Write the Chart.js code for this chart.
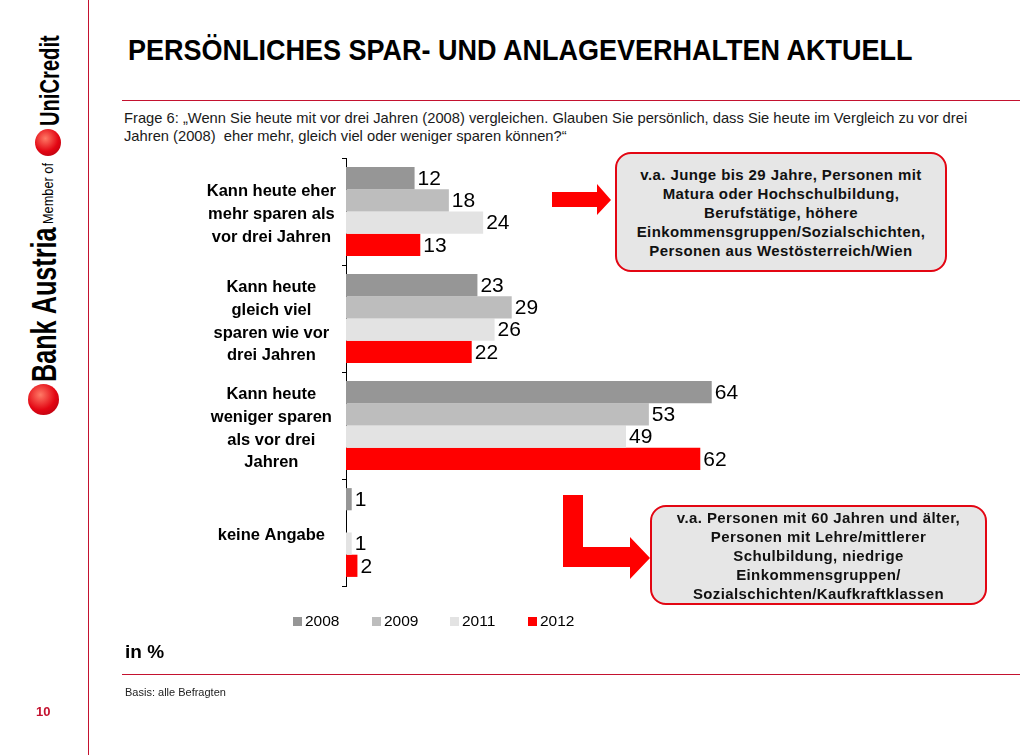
<!DOCTYPE html>
<html lang="de">
<head>
<meta charset="utf-8">
<title>Persönliches Spar- und Anlageverhalten aktuell</title>
<script src="https://cdn.jsdelivr.net/npm/chart.js@4/dist/chart.umd.min.js"></script>
<style>
  html, body { margin: 0; padding: 0; background: #fff; }
  body { width: 1020px; height: 755px; position: relative; overflow: hidden; font-family: "Liberation Sans", Arial, sans-serif; color: #000; }
  .abs { position: absolute; }
  .vline { left: 88px; top: 0; width: 1px; height: 755px; background: #c4122f; }
  .hline { left: 122px; width: 898px; height: 1px; background: #c4122f; }
  .title { left: 128px; top: 33px; font-size: 30px; font-weight: bold; white-space: nowrap; transform-origin: left top; transform: scaleX(0.9); }
  .question { left: 124px; top: 109px; font-size: 14.5px; line-height: 18px; color: #1a1a1a; white-space: nowrap; transform-origin: left top; transform: scaleX(1.015); }
  .box { background: #e6e6e6; border: 2.5px solid #e30613; border-radius: 16px; box-sizing: border-box;
         display: flex; align-items: center; justify-content: center; text-align: center;
         font-weight: bold; font-size: 15px; letter-spacing: 0.4px; line-height: 19px; color: #111; }
  .legend { top: 612px; display: flex; align-items: center; font-size: 15.5px; }
  .legend span.sw { display: inline-block; width: 9px; height: 9px; margin-right: 3px; }
  .logo { transform-origin: left top; white-space: nowrap; line-height: 1; }
  .dot { border-radius: 50%; background: radial-gradient(circle at 40% 35%, #ff7a66, #e30613 55%, #a3000f); }
</style>
</head>
<body>
<div class="abs vline"></div>

<!-- logo column, text reads bottom to top -->
<div class="abs logo" style="left:26px; top:382px; font-size:35px; font-weight:bold; transform: rotate(-90deg) scaleX(0.72);">Bank Austria</div>
<div class="abs dot" style="left:28px; top:384px; width:31px; height:31px;"></div>
<div class="abs logo" style="left:40px; top:224px; font-size:15px; transform: rotate(-90deg) scaleX(0.85);">Member of</div>
<div class="abs dot" style="left:35px; top:129px; width:26px; height:27px;"></div>
<div class="abs logo" style="left:36px; top:126px; font-size:28px; font-weight:bold; transform: rotate(-90deg) scaleX(0.72);">UniCredit</div>

<div class="abs title">PERSÖNLICHES SPAR- UND ANLAGEVERHALTEN AKTUELL</div>
<div class="abs hline" style="top:100px;"></div>
<div class="abs question">Frage 6: „Wenn Sie heute mit vor drei Jahren (2008) vergleichen. Glauben Sie persönlich, dass Sie heute im Vergleich zu vor drei<br>Jahren (2008)&nbsp; eher mehr, gleich viel oder weniger sparen können?“</div>

<div class="abs" style="left:180px; top:150px; width:600px; height:450px;">
  <canvas id="savingsChart"></canvas>
</div>

<!-- arrows -->
<svg class="abs" style="left:0; top:0;" width="1020" height="755">
  <polygon points="552,192 597,192 597,184 611,200 597,215 597,207 552,207" fill="#ff0000"/>
  <polygon points="563,495 583,495 583,547 630,547 630,537 650,558 630,579 630,567 563,567" fill="#ff0000"/>
</svg>

<div class="abs box" style="left:615px; top:152px; width:332px; height:120px;">v.a. Junge bis 29 Jahre, Personen mit<br>Matura oder Hochschulbildung,<br>Berufstätige, höhere<br>Einkommensgruppen/Sozialschichten,<br>Personen aus Westösterreich/Wien</div>
<div class="abs box" style="left:650px; top:505px; width:337px; height:100px;">v.a. Personen mit 60 Jahren und älter,<br>Personen mit Lehre/mittlerer<br>Schulbildung, niedrige<br>Einkommensgruppen/<br>Sozialschichten/Kaufkraftklassen</div>

<div id="legend"></div>

<div class="abs" style="left:125px; top:641px; font-size:19px; font-weight:bold;">in %</div>
<div class="abs hline" style="top:674px;"></div>
<div class="abs" style="left:125px; top:686px; font-size:11px; color:#222;">Basis: alle Befragten</div>
<div class="abs" style="left:36px; top:704px; font-size:13px; font-weight:bold; color:#c4122f;">10</div>

<script>
const categories = [
  ['Kann heute eher', 'mehr sparen als', 'vor drei Jahren'],
  ['Kann heute', 'gleich viel', 'sparen wie vor', 'drei Jahren'],
  ['Kann heute', 'weniger sparen', 'als vor drei', 'Jahren'],
  'keine Angabe'
];
const years = ['2008', '2009', '2011', '2012'];
const values2008 = [12, 23, 64, 1];
const values2009 = [18, 29, 53, 0];
const values2011 = [24, 26, 49, 1];
const values2012 = [13, 22, 62, 2];
const seriesColors = ['#969696', '#bdbdbd', '#e3e3e3', '#ff0000'];
const legendX = [293, 372, 450, 528];

document.addEventListener('DOMContentLoaded', () => {
  const seriesValues = [values2008, values2009, values2011, values2012];

  // Value labels right of each bar
  const valueLabels = {
    id: 'valueLabels',
    afterDatasetsDraw(chart) {
      const ctx = chart.ctx;
      ctx.save();
      ctx.font = '21px "Liberation Sans", Arial, sans-serif';
      ctx.fillStyle = '#000';
      ctx.textBaseline = 'middle';
      ctx.textAlign = 'left';
      chart.data.datasets.forEach((ds, i) => {
        chart.getDatasetMeta(i).data.forEach((bar, j) => {
          const v = ds.data[j];
          if (!v) return; // no label for 0
          ctx.fillText(String(v), bar.x + 3, bar.y + 1);
        });
      });
      ctx.restore();
    }
  };

  const ctx = document.getElementById('savingsChart').getContext('2d');
  new Chart(ctx, {
    type: 'bar',
    data: {
      labels: categories,
      datasets: years.map((year, i) => ({
        label: year,
        data: seriesValues[i],
        backgroundColor: seriesColors[i],
        borderWidth: 0,
        barPercentage: 1,
        categoryPercentage: 0.83
      }))
    },
    options: {
      indexAxis: 'y',
      responsive: true,
      maintainAspectRatio: false,
      animation: false,
      layout: { padding: { top: 8, bottom: 14, right: 34, left: 0 } },
      plugins: {
        legend: { display: false },
        tooltip: { enabled: false }
      },
      scales: {
        x: {
          display: false,
          min: 0,
          max: 70
        },
        y: {
          afterFit: (scale) => {
            scale.width = 166;
            scale.paddingTop = 0;
            scale.paddingBottom = 0;
          },
          border: { display: true, color: '#000', width: 1 },
          grid: { display: true, drawOnChartArea: false, drawTicks: true, tickLength: 4, color: '#000', offset: true },
          ticks: {
            crossAlign: 'center',
            padding: 6,
            labelOffset: 3,
            color: '#000',
            font: { family: '"Liberation Sans", Arial, sans-serif', size: 16.5, weight: 'bold', lineHeight: 1.39 }
          }
        }
      }
    },
    plugins: [valueLabels]
  });

  // Legend below the chart
  const legend = document.getElementById('legend');
  years.forEach((year, i) => {
    const item = document.createElement('div');
    item.className = 'abs legend';
    item.style.left = legendX[i] + 'px';
    item.innerHTML = `<span class="sw" style="background:${seriesColors[i]}"></span>${year}`;
    legend.appendChild(item);
  });
});
</script>
</body>
</html>
